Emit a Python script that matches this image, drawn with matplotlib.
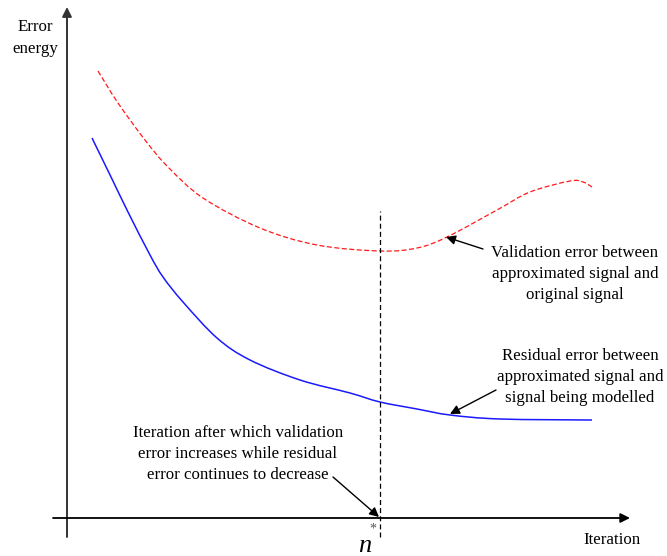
import matplotlib
matplotlib.use("Agg")
import matplotlib.pyplot as plt
from matplotlib.path import Path
from matplotlib.patches import PathPatch

plt.rcParams['font.family'] = ['Liberation Serif', 'DejaVu Serif']

# Validation error curve (red dashed)
val_x = [31, 51, 78, 101, 136, 193, 250, 313, 350, 380, 430, 463, 503, 516, 525]
val_y = [447, 415, 378, 351, 320, 290, 273, 267, 270, 281, 308, 326, 337, 336, 331]

# Residual error curve (blue)
res_x = [25, 45, 61, 83, 96, 116, 150, 183, 233, 283, 313, 350, 383, 433, 525]
res_y = [380, 339, 306, 263, 241, 216, 180, 158, 138, 125, 116, 109, 103, 99, 98]

n_star = 313

val_label = "Validation error between\napproximated signal and\noriginal signal"
res_label = "Residual error between\napproximated signal and\nsignal being modelled"
nstar_label = "Iteration after which validation\nerror increases while residual\nerror continues to decrease"
x_label = "Iteration"
y_label = "Error\nenergy"


def smooth_path(xs, ys):
    """Catmull-Rom curve through the given points, as Bezier segments."""
    pts = list(zip(xs, ys))
    verts = [pts[0]]
    codes = [Path.MOVETO]
    n = len(pts)
    for i in range(n - 1):
        p0 = pts[i - 1] if i > 0 else pts[i]
        p1 = pts[i]
        p2 = pts[i + 1]
        p3 = pts[i + 2] if i + 2 < n else pts[i + 1]
        c1 = (p1[0] + (p2[0] - p0[0]) / 6.0, p1[1] + (p2[1] - p0[1]) / 6.0)
        c2 = (p2[0] - (p3[0] - p1[0]) / 6.0, p2[1] - (p3[1] - p1[1]) / 6.0)
        verts += [c1, c2, p2]
        codes += [Path.CURVE4] * 3
    return Path(verts, codes)


fig = plt.figure(figsize=(6.67, 5.56), dpi=100)
ax = fig.add_axes([0, 0, 1, 1])
ax.set_xlim(-67, 600)
ax.set_ylim(-38, 518)
ax.axis('off')

fs = 12.2
ls_txt = 1.38
arrow_kw = dict(arrowstyle='-|>', color='black', lw=1.0, mutation_scale=14,
                shrinkA=0, shrinkB=0)

# axes with arrows
ax.annotate('', xy=(0, 511), xytext=(0, -19),
            arrowprops=dict(arrowstyle='-|>', color='#333333', lw=1.4,
                            mutation_scale=14, shrinkA=0, shrinkB=0))
ax.annotate('', xy=(563, 0), xytext=(-14, 0),
            arrowprops=dict(arrowstyle='-|>', color='black', lw=1.3,
                            mutation_scale=14, shrinkA=0, shrinkB=0))

# curves
ax.add_patch(PathPatch(smooth_path(val_x, val_y), fill=False, edgecolor='#ff1a1a',
                       lw=0.9, ls=(0, (4, 2))))
ax.add_patch(PathPatch(smooth_path(res_x, res_y), fill=False, edgecolor='#1a1aff',
                       lw=1.1))

# vertical dashed line at n*
ax.plot([n_star, n_star], [-19, 307], color='black', lw=0.9, ls=(0, (4, 2.5)))

# annotations
ax.text(508, 244, val_label, ha='center', va='center', fontsize=fs, linespacing=ls_txt)
ax.annotate('', xy=(379, 281), xytext=(416, 269), arrowprops=arrow_kw)

ax.text(513, 141, res_label, ha='center', va='center', fontsize=fs, linespacing=ls_txt)
ax.annotate('', xy=(383, 104), xytext=(429, 128), arrowprops=arrow_kw)

ax.text(171, 64, nstar_label, ha='center', va='center', fontsize=fs, linespacing=ls_txt)
ax.annotate('', xy=(n_star - 1, 1), xytext=(266, 41), arrowprops=arrow_kw)

# axis labels
ax.text(545, -22, x_label, ha='center', va='center', fontsize=fs)
ax.text(-32, 480, y_label, ha='center', va='center', fontsize=fs, linespacing=1.45)

# n* label
ax.text(298, -34, 'n', ha='center', va='baseline', fontsize=19, style='italic')
ax.text(306, -11, '*', ha='center', va='center', fontsize=10, color='#555555')

fig.savefig('out.png', dpi=100)
